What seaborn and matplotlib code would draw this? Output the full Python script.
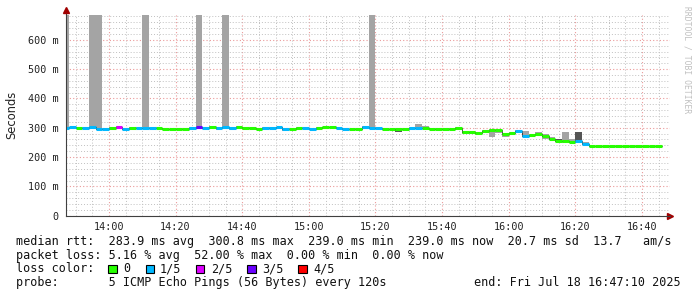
import matplotlib
matplotlib.use("Agg")
import matplotlib.pyplot as plt
import matplotlib.ticker as mticker
from matplotlib.patches import Rectangle
import numpy as np
import pandas as pd
import seaborn as sns

# ---------------- data ----------------
first_step_min = 13 * 60 + 46        # left edge of the first 2-minute step (13:46)
step_min = 2
x_start = 13 * 60 + 47 + 10 / 60    # 13:47:10
x_end = 16 * 60 + 48.4

median_ms = [
    300, 301, 298, 299, 301, 296, 296, 298, 302, 295,
    298, 299, 299, 299, 299, 297, 294, 297, 297, 298,
    302, 299, 302, 298, 301, 298, 302, 300, 298, 297,
    300, 298, 301, 296, 297, 298, 299, 297, 298, 301,
    301, 298, 295, 294, 297, 302, 299, 299, 296, 294,
    296, 297, 299, 298, 298, 297, 295, 295, 296, 299,
    286, 285, 282, 288, 291, 291, 278, 282, 288, 271,
    275, 278, 272, 260, 254, 254, 253, 256, 246, 239,
    239, 239, 239, 239, 239, 239, 239, 239, 239, 239,
]
loss_idx = [
    1, 1, 0, 1, 1, 1, 1, 0, 2, 1,
    0, 1, 1, 1, 0, 0, 0, 0, 0, 1,
    3, 1, 0, 1, 1, 1, 0, 0, 0, 0,
    1, 1, 1, 1, 0, 0, 1, 1, 0, 0,
    0, 1, 1, 0, 0, 1, 1, 1, 0, 0,
    0, 0, 1, 1, 0, 0, 0, 0, 0, 0,
    0, 0, 0, 0, 0, 0, 0, 0, 1, 1,
    0, 0, 0, 0, 0, 0, 0, 1, 1, 0,
    0, 0, 0, 0, 0, 0, 0, 0, 0, 0,
]
smoke_lo = [
    297, 298, 295, 296, 298, 293, 293, 295, 299, 292,
    295, 296, 296, 296, 296, 294, 291, 294, 294, 295,
    299, 296, 299, 292, 298, 292, 299, 297, 295, 294,
    297, 295, 298, 290, 294, 295, 296, 294, 295, 294,
    298, 295, 292, 291, 294, 299, 296, 296, 293, 291,
    284, 294, 296, 295, 295, 294, 292, 292, 293, 296,
    280, 280, 275, 282, 268, 282, 270, 279, 285, 268,
    268, 275, 262, 257, 251, 248, 248, 252, 243, 239,
    239, 239, 239, 239, 239, 239, 239, 239, 239, 239,
]
smoke_hi = [
    700, 304, 301, 302, 700, 700, 299, 301, 305, 298,
    301, 302, 700, 302, 302, 300, 297, 300, 300, 301,
    700, 302, 305, 301, 700, 301, 305, 303, 301, 300,
    303, 301, 304, 299, 300, 301, 302, 300, 301, 304,
    304, 301, 298, 297, 300, 305, 700, 302, 299, 297,
    299, 300, 302, 312, 305, 300, 298, 298, 299, 302,
    289, 288, 285, 291, 294, 294, 281, 285, 291, 288,
    278, 286, 278, 268, 262, 286, 262, 285, 250, 239,
    239, 239, 239, 239, 239, 239, 239, 239, 239, 239,
]
# darker inner smoke band (only where it is visible)
dark_lo = [
    300, 301, 298, 299, 301, 296, 296, 298, 302, 295,
    298, 299, 299, 299, 299, 297, 294, 297, 297, 298,
    302, 299, 302, 298, 301, 298, 302, 300, 298, 297,
    300, 298, 301, 296, 297, 298, 299, 294, 298, 301,
    301, 298, 295, 294, 297, 302, 299, 299, 296, 294,
    287, 297, 299, 298, 298, 297, 295, 295, 296, 299,
    283, 285, 277, 288, 291, 291, 278, 282, 288, 271,
    272, 278, 269, 260, 254, 254, 253, 256, 246, 239,
    239, 239, 239, 239, 239, 239, 239, 239, 239, 239,
]
dark_hi = [
    300, 301, 298, 299, 301, 296, 296, 298, 302, 295,
    298, 299, 299, 299, 299, 297, 294, 297, 297, 298,
    302, 299, 302, 298, 301, 298, 302, 300, 298, 297,
    300, 298, 301, 296, 297, 298, 299, 297, 298, 301,
    301, 298, 295, 294, 297, 302, 299, 299, 296, 294,
    296, 297, 299, 298, 298, 297, 295, 295, 296, 299,
    286, 285, 282, 288, 291, 291, 278, 282, 288, 271,
    275, 278, 272, 266, 260, 254, 253, 284, 246, 239,
    239, 239, 239, 239, 239, 239, 239, 239, 239, 239,
]
loss_labels = ["0", "1/5", "2/5", "3/5", "4/5"]
loss_colors = ["#26ff00", "#00b8ff", "#dd00ff", "#6a00ff", "#ff0000"]
y_ticks_ms = [0, 100, 200, 300, 400, 500, 600]
x_tick_labels = ["14:00", "14:20", "14:40", "15:00", "15:20", "15:40", "16:00", "16:20", "16:40"]

stat_lines = [
    "median rtt:  283.9 ms avg  300.8 ms max  239.0 ms min  239.0 ms now  20.7 ms sd  13.7   am/s",
    "packet loss: 5.16 % avg  52.00 % max  0.00 % min  0.00 % now",
]
probe_text = "probe:       5 ICMP Echo Pings (56 Bytes) every 120s"
end_text = "end: Fri Jul 18 16:47:10 2025"

# ---------------- build tables ----------------
n = len(median_ms)
left = [first_step_min + step_min * k for k in range(n)]
edges = left + [left[-1] + step_min]

rows = []
for k in range(n):
    for t in (edges[k], edges[k + 1]):
        rows.append({"seg": k, "t": t, "rtt": median_ms[k], "loss": loss_labels[loss_idx[k]]})
seg_df = pd.DataFrame(rows)

# ---------------- figure ----------------
sns.set_style("white")
plt.rcParams["font.family"] = ["DejaVu Sans Mono", "DejaVu Sans"]

W, H = 697, 297
fig = plt.figure(figsize=(W / 100, H / 100), dpi=100)
ax_l, ax_r, ax_t, ax_b = 66.2, 670.0, 15.0, 215.7
ax = fig.add_axes([ax_l / W, 1 - ax_b / H, (ax_r - ax_l) / W, (ax_b - ax_t) / H])

# smoke
ax.fill_between(edges, smoke_lo + [smoke_lo[-1]], smoke_hi + [smoke_hi[-1]],
                step="post", color="#a4a4a4", lw=0, zorder=2)
ax.fill_between(edges, dark_lo + [dark_lo[-1]], dark_hi + [dark_hi[-1]],
                step="post", color="#555555", lw=0, zorder=2.5)
# thin connectors
ax.step(edges, median_ms + [median_ms[-1]], where="post", color="#303030", lw=0.6, zorder=3)
# coloured median
sns.lineplot(data=seg_df, x="t", y="rtt", hue="loss", units="seg", estimator=None,
             palette=dict(zip(loss_labels, loss_colors)), hue_order=loss_labels,
             linewidth=2.2, legend=False, sort=False, ax=ax, zorder=4,
             solid_capstyle="butt")

ax.set_xlim(x_start, x_end)
ax.set_ylim(0, 684.5)

ax.xaxis.set_major_locator(mticker.FixedLocator([840 + 20 * i for i in range(len(x_tick_labels))]))
ax.xaxis.set_major_formatter(mticker.FixedFormatter(x_tick_labels))
ax.xaxis.set_minor_locator(mticker.MultipleLocator(5))
ax.yaxis.set_major_locator(mticker.FixedLocator(y_ticks_ms))
ax.yaxis.set_major_formatter(mticker.FuncFormatter(lambda v, p: "0" if v == 0 else f"{int(v)} m"))
ax.yaxis.set_minor_locator(mticker.MultipleLocator(20))

ax.grid(which="minor", color="#c0c0c0", linestyle=(0, (1, 2)), lw=0.7, zorder=1)
ax.grid(which="major", color="#eb9a9a", linestyle=(0, (1, 2)), lw=0.8, zorder=1)
ax.set_axisbelow(True)

ax.tick_params(which="both", length=2, width=0.7, color="#606060", labelsize=7.3,
               labelcolor="#222222", pad=2.5)
ax.tick_params(axis="y", pad=3.5)

for s in ("top", "right"):
    ax.spines[s].set_visible(False)
for s in ("left", "bottom"):
    ax.spines[s].set_color("#404040")
    ax.spines[s].set_linewidth(0.8)
    ax.spines[s].set_zorder(6)

ax.set_xlabel("")
ax.set_ylabel("Seconds", family="DejaVu Sans", fontsize=8.3, color="#222222", labelpad=7)

# arrows
ax.plot([0, 0], [1.0, 1.025], transform=ax.transAxes, color="#404040", lw=0.8, clip_on=False)
ax.plot([0], [1.025], marker="^", ms=4.5, color="#a00000", transform=ax.transAxes, clip_on=False)
ax.plot([1.0], [0], marker=">", ms=4.5, color="#a00000", transform=ax.transAxes, clip_on=False)

# text block
def fx(px):
    return px / W

def fy(py):
    return 1 - py / H

mono = dict(family="DejaVu Sans Mono", fontsize=8.5, color="#111111", va="center")
fig.text(fx(15.5), fy(241.7), stat_lines[0], ha="left", **mono)
fig.text(fx(15.5), fy(255.3), stat_lines[1], ha="left", **mono)
fig.text(fx(15.5), fy(269.0), "loss color:", ha="left", **mono)
sq_x = [108.3, 145.7, 196.0, 247.3, 298.3]
lab_x = [123.3, 160.0, 210.7, 262.3, 313.3]
for sx, lx, lab, col in zip(sq_x, lab_x, loss_labels, loss_colors):
    fig.patches.append(Rectangle((fx(sx), fy(273.2)), 8.3 / W, 8.3 / H, transform=fig.transFigure,
                                 facecolor=col, edgecolor="black", lw=0.8))
    fig.text(fx(lx), fy(269.0), lab, ha="left", **mono)
fig.text(fx(15.5), fy(282.7), probe_text, ha="left", **mono)
fig.text(fx(681), fy(282.7), end_text, ha="right", **mono)

fig.text(fx(687), fy(60), "RRDTOOL / TOBI OETIKER", rotation=270, ha="center", va="center",
         family="DejaVu Sans Mono", fontsize=5.8, color="#c0c0c0")

fig.savefig("out.png", dpi=100, facecolor="white")
